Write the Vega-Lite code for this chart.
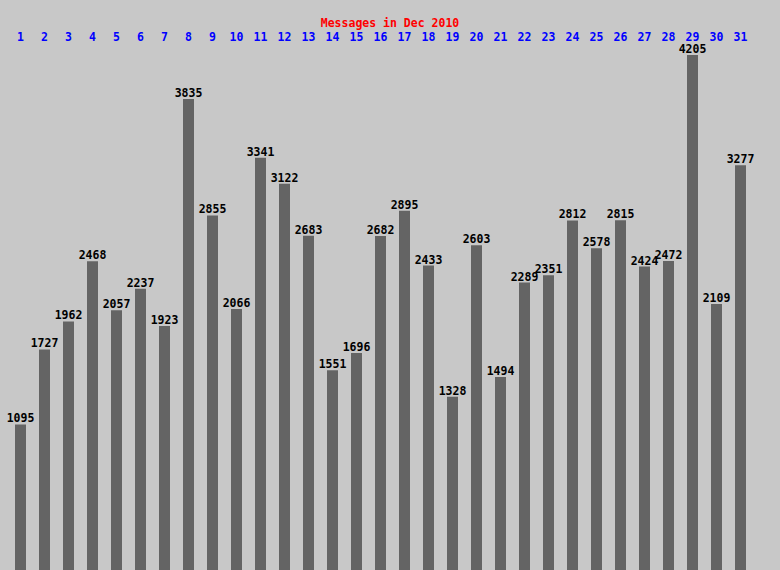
{
  "$schema": "https://vega.github.io/schema/vega-lite/v6.json",
  "autosize": "none",
  "width": 744,
  "height": 515,
  "padding": {"left": 8.5, "top": 55, "right": 27.5, "bottom": 0},
  "background": "#c8c8c8",
  "config": {"view": {"stroke": null}},
  "title": {
    "text": "Messages in Dec 2010",
    "color": "#ff0000",
    "font": "DejaVu Sans Mono",
    "fontSize": 11.5,
    "fontWeight": "bold",
    "anchor": "middle",
    "dx": 9.5,
    "offset": 2
  },
  "data": {
    "values": [
      {"day": 1, "count": 1095}, {"day": 2, "count": 1727}, {"day": 3, "count": 1962},
      {"day": 4, "count": 2468}, {"day": 5, "count": 2057}, {"day": 6, "count": 2237},
      {"day": 7, "count": 1923}, {"day": 8, "count": 3835}, {"day": 9, "count": 2855},
      {"day": 10, "count": 2066}, {"day": 11, "count": 3341}, {"day": 12, "count": 3122},
      {"day": 13, "count": 2683}, {"day": 14, "count": 1551}, {"day": 15, "count": 1696},
      {"day": 16, "count": 2682}, {"day": 17, "count": 2895}, {"day": 18, "count": 2433},
      {"day": 19, "count": 1328}, {"day": 20, "count": 2603}, {"day": 21, "count": 1494},
      {"day": 22, "count": 2289}, {"day": 23, "count": 2351}, {"day": 24, "count": 2812},
      {"day": 25, "count": 2578}, {"day": 26, "count": 2815}, {"day": 27, "count": 2424},
      {"day": 28, "count": 2472}, {"day": 29, "count": 4205}, {"day": 30, "count": 2109},
      {"day": 31, "count": 3277}
    ]
  },
  "encoding": {
    "x": {
      "field": "day",
      "type": "ordinal",
      "scale": {"paddingInner": 0.5417, "paddingOuter": 0.27085},
      "axis": {
        "orient": "top",
        "title": null,
        "domain": false,
        "ticks": false,
        "labelAngle": 0,
        "labelColor": "#0000ff",
        "labelFont": "DejaVu Sans Mono",
        "labelFontSize": 11.5,
        "labelFontWeight": "bold",
        "labelPadding": 13
      }
    }
  },
  "layer": [
    {
      "mark": {"type": "bar", "color": "#646464"},
      "encoding": {
        "y": {
          "field": "count",
          "type": "quantitative",
          "scale": {"domain": [-130, 4205], "zero": false, "nice": false},
          "axis": null
        },
        "y2": {"datum": -130}
      }
    },
    {
      "mark": {
        "type": "text",
        "baseline": "alphabetic",
        "dy": -2,
        "font": "DejaVu Sans Mono",
        "fontSize": 11.5,
        "fontWeight": "bold",
        "color": "#000000"
      },
      "encoding": {
        "y": {"field": "count", "type": "quantitative"},
        "text": {"field": "count", "type": "quantitative"}
      }
    }
  ]
}
